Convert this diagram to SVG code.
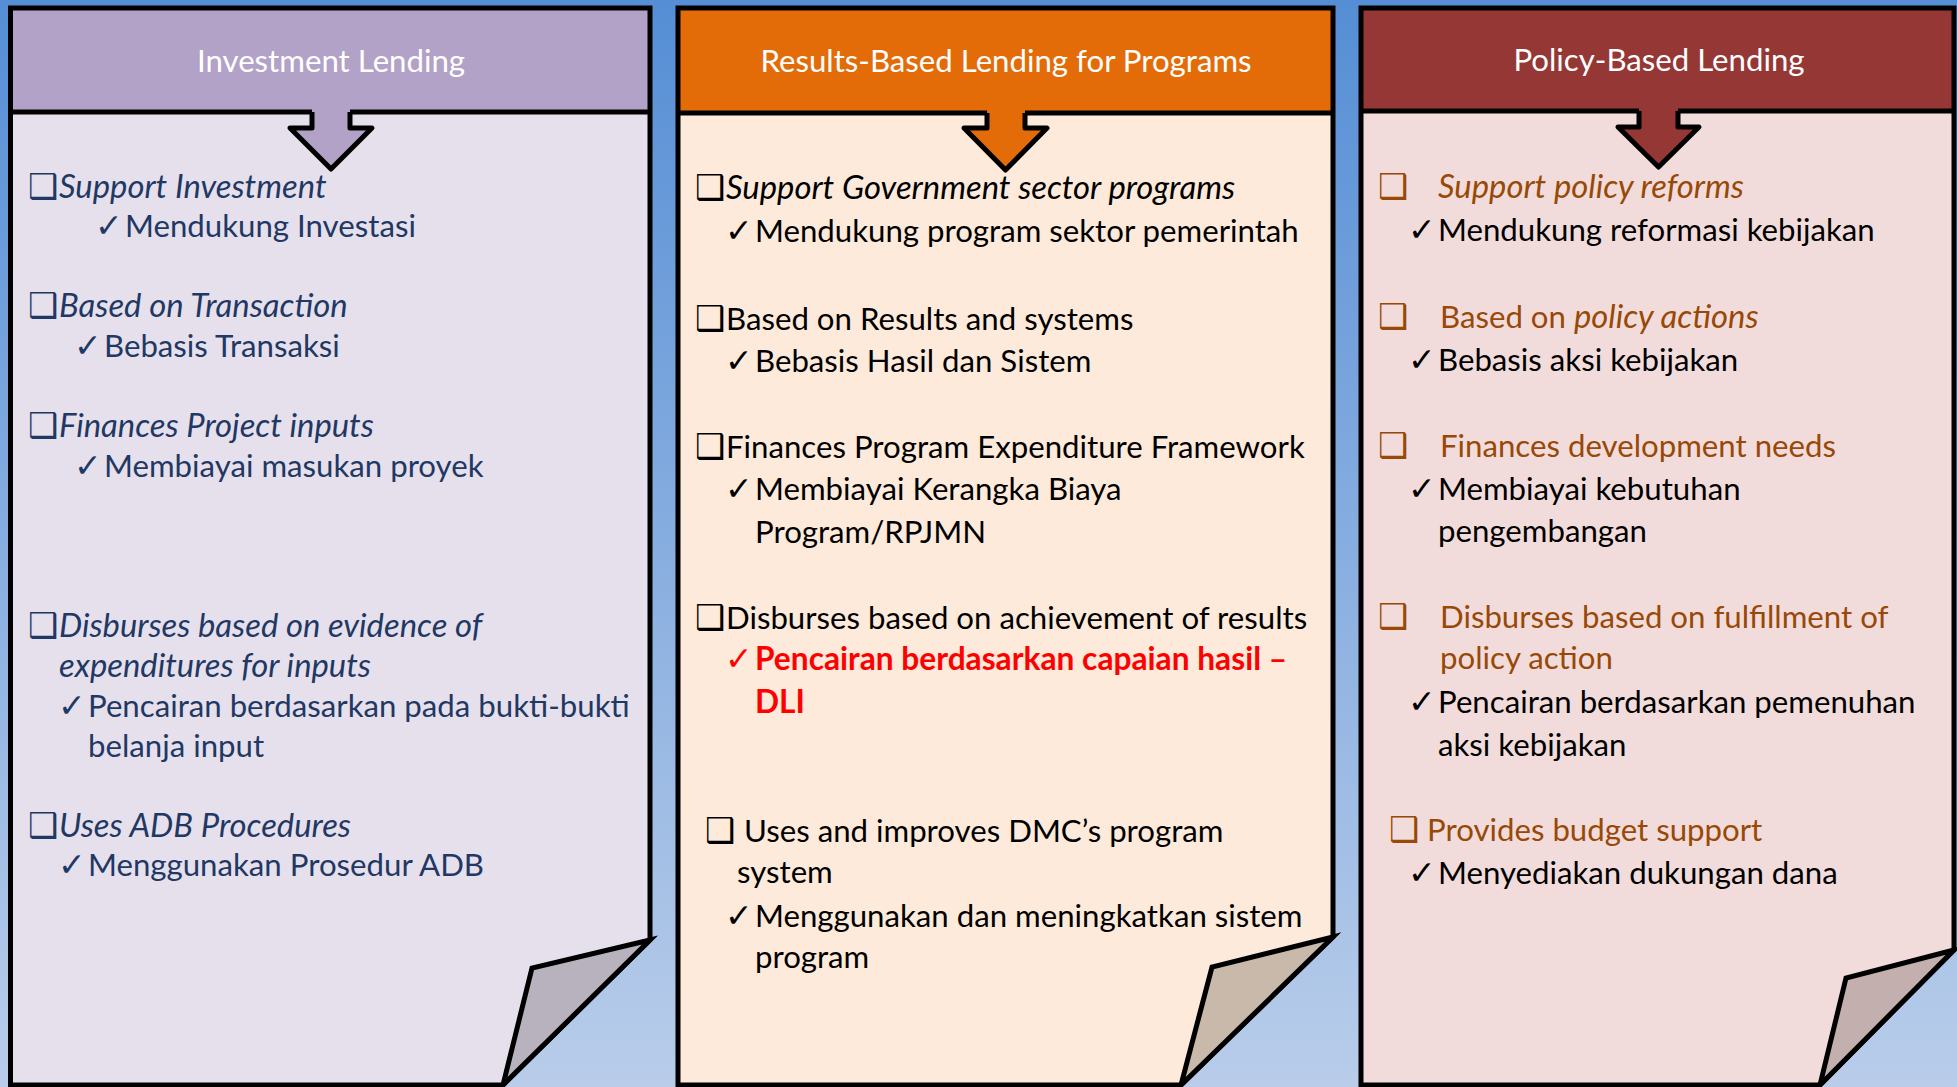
<svg xmlns="http://www.w3.org/2000/svg" width="1957" height="1087" viewBox="0 0 1957 1087">
<defs>
<linearGradient id="bg" x1="0" y1="0" x2="0" y2="1">
<stop offset="0" stop-color="#558ED5"/>
<stop offset="1" stop-color="#B9CDEA"/>
</linearGradient>
</defs>
<style>
.out{fill:none;stroke:#000;stroke-width:5;stroke-linejoin:miter}
.ln{stroke:#000;stroke-width:5;fill:none}
.arr{stroke:#000;stroke-width:5;stroke-linejoin:round}
.fold{stroke:#000;stroke-width:5;stroke-linejoin:miter}
text{font-family:Lato,"Open Sans",sans-serif;font-size:31.2px}
.hd{fill:#fff;text-anchor:middle}
.sym{font-family:"DejaVu Sans",sans-serif;font-size:34px;font-weight:bold}
.ck{font-family:"DejaVu Sans",sans-serif;font-size:33px}
.i{font-style:italic;font-size:32.8px}
.p1{fill:#1F3864}
.p2{fill:#000}
.p3{fill:#000}
.br{fill:#984807}
.red{fill:#FF0000;font-weight:bold;font-size:31.7px}
</style>
<rect x="0" y="0" width="1957" height="1087" fill="url(#bg)"/>

<g id="panel-investment">
<path d="M10.5,8 H650 V940 L503,1085 H10.5 Z" fill="#E6E0EC"/>
<rect x="10.5" y="8" width="639.5" height="104" fill="#B3A2C7"/>
<path class="arr" d="M312,112 V128 H290 L331,169 L372,128 H350 V112" fill="#B3A2C7"/>
<path class="ln" d="M10.5,112 H312 M350,112 H650"/>
<path class="out" d="M10.5,8 H650 V940 L503,1085 H10.5 Z"/>
<path class="fold" d="M650,940 L532,968 L503,1085 Z" fill="#B7B2BE"/>
<text class="hd" x="331" y="72">Investment Lending</text>
<text class="p1"><tspan class="sym" x="28" y="198">❑</tspan><tspan class="i" x="59" y="198">Support Investment</tspan></text>
<text class="p1"><tspan class="ck" x="95" y="237">✓</tspan><tspan x="125" y="237">Mendukung Investasi</tspan></text>
<text class="p1"><tspan class="sym" x="28" y="317">❑</tspan><tspan class="i" x="59" y="317">Based on Transaction</tspan></text>
<text class="p1"><tspan class="ck" x="74" y="357">✓</tspan><tspan x="104" y="357">Bebasis Transaksi</tspan></text>
<text class="p1"><tspan class="sym" x="28" y="437">❑</tspan><tspan class="i" x="59" y="437">Finances Project inputs</tspan></text>
<text class="p1"><tspan class="ck" x="74" y="477">✓</tspan><tspan x="104" y="477">Membiayai masukan proyek</tspan></text>
<text class="p1"><tspan class="sym" x="28" y="637">❑</tspan><tspan class="i" x="59" y="637">Disburses based on evidence of</tspan></text>
<text class="p1 i" x="59" y="677">expenditures for inputs</text>
<text class="p1"><tspan class="ck" x="58" y="717">✓</tspan><tspan x="88" y="717">Pencairan berdasarkan pada bukti-bukti</tspan></text>
<text class="p1" x="88" y="757">belanja input</text>
<text class="p1"><tspan class="sym" x="28" y="837">❑</tspan><tspan class="i" x="59" y="837">Uses ADB Procedures</tspan></text>
<text class="p1"><tspan class="ck" x="58" y="876">✓</tspan><tspan x="88" y="876">Menggunakan Prosedur ADB</tspan></text>
</g>

<g id="panel-results">
<path d="M678,8 H1333 V937 L1181,1085 H678 Z" fill="#FDEADA"/>
<rect x="678" y="8" width="655" height="105" fill="#E36C09"/>
<path class="arr" d="M987,113 V128 H964 L1005.5,170 L1047,128 H1025 V113" fill="#E36C09"/>
<path class="ln" d="M678,113 H987 M1025,113 H1333"/>
<path class="out" d="M678,8 H1333 V937 L1181,1085 H678 Z"/>
<path class="fold" d="M1333,937 L1212,967 L1181,1085 Z" fill="#C9B9AB"/>
<text class="hd" x="1006" y="72">Results-Based Lending for Programs</text>
<text class="p2"><tspan class="sym" x="695" y="199">❑</tspan><tspan class="i" x="726" y="199">Support Government sector programs</tspan></text>
<text class="p2"><tspan class="ck" x="725" y="242">✓</tspan><tspan x="755" y="242">Mendukung program sektor pemerintah</tspan></text>
<text class="p2"><tspan class="sym" x="695" y="330">❑</tspan><tspan x="726" y="330">Based on Results and systems</tspan></text>
<text class="p2"><tspan class="ck" x="725" y="372">✓</tspan><tspan x="755" y="372">Bebasis Hasil dan Sistem</tspan></text>
<text class="p2"><tspan class="sym" x="695" y="458">❑</tspan><tspan x="726" y="458">Finances Program Expenditure Framework</tspan></text>
<text class="p2"><tspan class="ck" x="725" y="500">✓</tspan><tspan x="755" y="500">Membiayai Kerangka Biaya</tspan></text>
<text class="p2" x="755" y="543">Program/RPJMN</text>
<text class="p2"><tspan class="sym" x="695" y="629">❑</tspan><tspan x="726" y="629">Disburses based on achievement of results</tspan></text>
<text class="red"><tspan class="ck" x="725" y="670">✓</tspan><tspan x="755" y="670">Pencairan berdasarkan capaian hasil –</tspan></text>
<text class="red" x="755" y="713">DLI</text>
<text class="p2"><tspan class="sym" x="705" y="842">❑</tspan><tspan x="744" y="842">Uses and improves DMC’s program</tspan></text>
<text class="p2" x="737" y="883">system</text>
<text class="p2"><tspan class="ck" x="725" y="927">✓</tspan><tspan x="755" y="927">Menggunakan dan meningkatkan sistem</tspan></text>
<text class="p2" x="755" y="968">program</text>
</g>

<g id="panel-policy">
<path d="M1361,8 H1954 V950 L1820,1085 H1361 Z" fill="#F2DCDB"/>
<rect x="1361" y="8" width="593" height="103" fill="#953735"/>
<path class="arr" d="M1639,111 V127 H1618 L1658.5,167 L1699,127 H1678 V111" fill="#953735"/>
<path class="ln" d="M1361,111 H1639 M1678,111 H1954"/>
<path class="out" d="M1361,8 H1954 V950 L1820,1085 H1361 Z"/>
<path class="fold" d="M1954,950 L1846,978 L1820,1085 Z" fill="#C3B0AE"/>
<text class="hd" x="1659" y="71">Policy-Based Lending</text>
<text class="br"><tspan class="sym" x="1378" y="198">❑</tspan><tspan class="i" x="1438" y="198">Support policy reforms</tspan></text>
<text class="p3"><tspan class="ck" x="1408" y="241">✓</tspan><tspan x="1438" y="241">Mendukung reformasi kebijakan</tspan></text>
<text class="br"><tspan class="sym" x="1378" y="328">❑</tspan><tspan x="1440" y="328">Based on </tspan><tspan class="i">policy actions</tspan></text>
<text class="p3"><tspan class="ck" x="1408" y="371">✓</tspan><tspan x="1438" y="371">Bebasis aksi kebijakan</tspan></text>
<text class="br"><tspan class="sym" x="1378" y="457">❑</tspan><tspan x="1440" y="457">Finances development needs</tspan></text>
<text class="p3"><tspan class="ck" x="1408" y="500">✓</tspan><tspan x="1438" y="500">Membiayai kebutuhan</tspan></text>
<text class="p3" x="1438" y="542">pengembangan</text>
<text class="br"><tspan class="sym" x="1378" y="628">❑</tspan><tspan x="1440" y="628">Disburses based on fulfillment of</tspan></text>
<text class="br" x="1440" y="669">policy action</text>
<text class="p3"><tspan class="ck" x="1408" y="713">✓</tspan><tspan x="1438" y="713">Pencairan berdasarkan pemenuhan</tspan></text>
<text class="p3" x="1438" y="756">aksi kebijakan</text>
<text class="br"><tspan class="sym" x="1389" y="841">❑</tspan><tspan x="1427" y="841">Provides budget support</tspan></text>
<text class="p3"><tspan class="ck" x="1408" y="884">✓</tspan><tspan x="1438" y="884">Menyediakan dukungan dana</tspan></text>
</g>

<g id="connectors"></g>
</svg>
